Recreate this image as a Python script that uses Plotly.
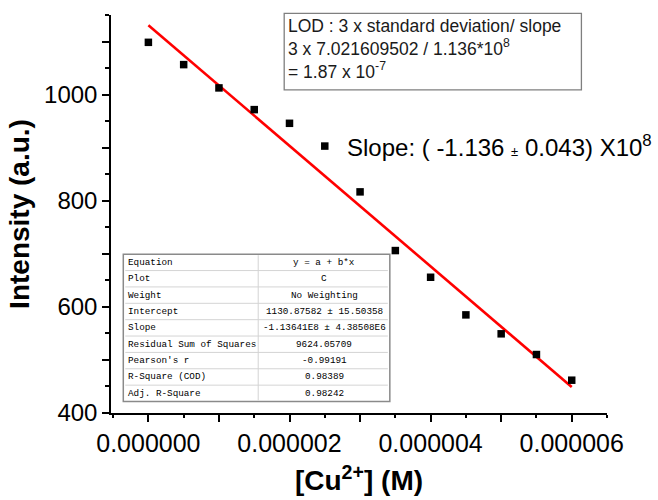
import plotly.graph_objects as go

# ---------------- data ----------------
conc = [0.0, 0.5e-6, 1.0e-6, 1.5e-6, 2.0e-6, 2.5e-6, 3.0e-6,
        3.5e-6, 4.0e-6, 4.5e-6, 5.0e-6, 5.5e-6, 6.0e-6]
intensity = [1098.5, 1056.5, 1012.6, 971.7, 945.9, 903.0, 816.7,
             706.1, 655.8, 584.9, 549.2, 510.2, 461.8]
fit_intercept = 1130.87582
fit_slope = -1.13641e8
fit_x = [0.0, 6.0e-6]

# axis ticks: major every x_major, label on every 2nd major tick
x_tick0, x_major, x_minor, x_tickformat = 0.0, 1e-6, 0.5e-6, ".6f"
y_tick0, y_major, y_minor = 400, 100, 50
label_step = 2

table_labels = ["Equation", "Plot", "Weight", "Intercept", "Slope",
                "Residual Sum of Squares", "Pearson's r", "R-Square (COD)",
                "Adj. R-Square"]
table_values = ["y = a + b*x", "C", "No Weighting",
                "1130.87582 \u00b1 15.50358", "-1.13641E8 \u00b1 4.38508E6",
                "9624.05709", "-0.99191", "0.98389", "0.98242"]

lod_lines = ["LOD : 3 x standard deviation/ slope",
             "3 x 7.021609502 / 1.136*10<sup>8</sup>",
             "= 1.87 x 10<sup>-7</sup>"]
slope_text = "Slope: ( -1.136 <span style='font-size:13px'>\u00b1</span> 0.043) X10<sup>8</sup>"

# ---------------- layout geometry ----------------
W, H = 658, 500
L, R, T, B = 111, 607.3, 15, 413.5
X_RANGE = [-0.53e-6, 6.5e-6]
Y_RANGE = [400, 1150]


def px(x):
    return (x - L) / (R - L)


def py(y):
    return (B - y) / (B - T)


FONT = "Arial, Liberation Sans, sans-serif"

fig = go.Figure()
fig.add_trace(go.Scatter(
    x=fit_x, y=[fit_intercept + fit_slope * v for v in fit_x],
    mode="lines", line=dict(color="#ff0000", width=2.6),
    showlegend=False, hoverinfo="skip"))
fig.add_trace(go.Scatter(
    x=conc, y=intensity, mode="markers",
    marker=dict(symbol="square", size=7.5, color="black"),
    showlegend=False))

axis_common = dict(ticks="outside", tickcolor="black", tickwidth=1.5,
                   showgrid=False, zeroline=False, mirror=False,
                   showline=True, linecolor="black", linewidth=1.5,
                   ticklen=7, ticklabelstep=label_step, automargin=False)

fig.update_layout(
    xaxis=dict(
        **axis_common, range=X_RANGE, tickmode="linear",
        tick0=x_tick0, dtick=x_major, tickformat=x_tickformat,
        tickfont=dict(family=FONT, size=25, color="black"),
        minor=dict(tickmode="linear", tick0=x_tick0, dtick=x_minor,
                   ticklen=3.5, tickwidth=1.5, tickcolor="black",
                   ticks="outside"),
        title=dict(text="[Cu<sup>2+</sup>] (M)",
                   font=dict(family=FONT, size=28, color="black",
                             weight="bold"),
                   standoff=15)),
    yaxis=dict(
        **axis_common, range=Y_RANGE, tickmode="linear",
        tick0=y_tick0, dtick=y_major,
        tickfont=dict(family=FONT, size=24, color="black"),
        minor=dict(tickmode="linear", tick0=y_tick0, dtick=y_minor,
                   ticklen=4, tickwidth=1.5, tickcolor="black",
                   ticks="outside"),
        title=dict(text="Intensity (a.u.)",
                   font=dict(family=FONT, size=28, color="black",
                             weight="bold"),
                   standoff=6)),
)

shapes = []
annotations = []

# LOD box
shapes.append(dict(type="rect", xref="paper", yref="paper",
                   x0=px(284.3), x1=px(581.7), y0=py(90), y1=py(13.3),
                   line=dict(color="#7f7f7f", width=1.3), fillcolor="white",
                   layer="above"))
annotations.append(dict(xref="paper", yref="paper", x=px(286.5), y=py(49.5),
                        xanchor="left", yanchor="middle", align="left",
                        text="<br>".join(lod_lines), showarrow=False,
                        font=dict(family=FONT, size=17.5, color="#1a1a1a")))

# Slope note
annotations.append(dict(xref="paper", yref="paper", x=px(345), y=py(146),
                        xanchor="left", yanchor="middle", text=slope_text,
                        showarrow=False,
                        font=dict(family=FONT, size=24, color="black")))

# Fit table
tx0, tx1, ty0, ty1, tdiv = 123.3, 390.0, 254.5, 402.0, 258.3
rh = (ty1 - ty0) / len(table_labels)
shapes.append(dict(type="rect", xref="paper", yref="paper",
                   x0=px(tx0), x1=px(tx1), y0=py(ty1), y1=py(ty0),
                   line=dict(color="#8a8a8a", width=1.5), fillcolor="white",
                   layer="above"))
for i in range(1, len(table_labels)):
    yy = ty0 + i * rh
    shapes.append(dict(type="line", xref="paper", yref="paper",
                       x0=px(tx0 + 2), x1=px(tx1 - 2), y0=py(yy), y1=py(yy),
                       line=dict(color="#d4d4d4", width=1), layer="above"))
shapes.append(dict(type="line", xref="paper", yref="paper",
                   x0=px(tdiv), x1=px(tdiv), y0=py(ty0 + 1), y1=py(ty1 - 1),
                   line=dict(color="#d4d4d4", width=1), layer="above"))
MONO = "Liberation Mono, DejaVu Sans Mono, monospace"
for i, (lab, val) in enumerate(zip(table_labels, table_values)):
    yc = ty0 + (i + 0.5) * rh
    annotations.append(dict(xref="paper", yref="paper", x=px(tx0 + 3),
                            y=py(yc), xanchor="left", yanchor="middle",
                            text=lab, showarrow=False,
                            font=dict(family=MONO, size=9.3, color="black")))
    annotations.append(dict(xref="paper", yref="paper",
                            x=px((tdiv + tx1) / 2), y=py(yc),
                            xanchor="center", yanchor="middle",
                            text=val, showarrow=False,
                            font=dict(family=MONO, size=9.3, color="black")))

fig.update_layout(
    width=W, height=H, autosize=False,
    margin=dict(l=L, r=W - R, t=T, b=H - B, pad=0),
    plot_bgcolor="white", paper_bgcolor="white",
    shapes=shapes, annotations=annotations, showlegend=False)

fig.write_html("out.html")
